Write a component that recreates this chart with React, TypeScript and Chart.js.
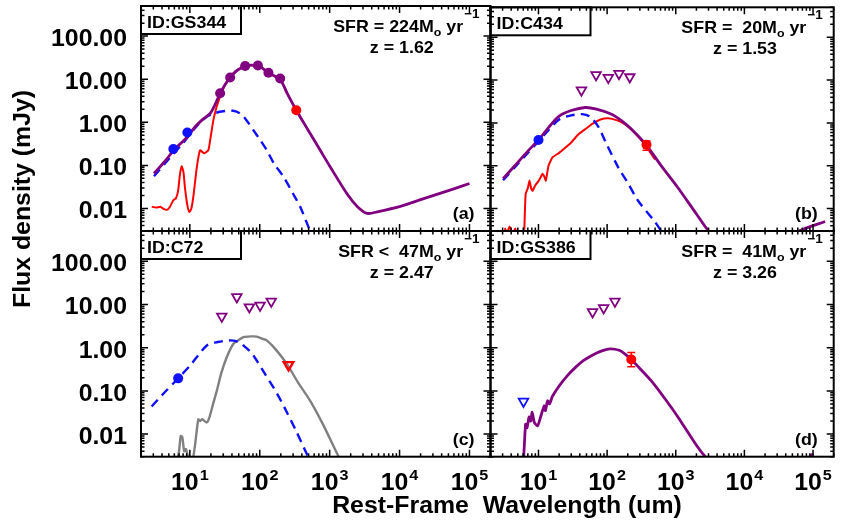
import { useEffect, useRef } from 'react';
import { Chart, registerables } from 'chart.js';

Chart.register(...registerables);

const W = 841;
const H = 525;
const FONT = '"Liberation Sans", Arial, Helvetica, sans-serif';
const SX = 1.08; // the original lettering is a touch wider than Arial

const PURPLE = '#800080';
const BLUE = '#1010ff';
const RED = '#ff0000';
const GRAY = '#808080';

// axes (shared by all four panels)
const X_MIN = 2;
const X_MAX = 2e5;
const Y_MIN = 0.003;
const Y_MAX = 500;
const xTickValues = [10, 100, 1000, 10000, 100000];
const xTickExp = ['1', '2', '3', '4', '5'];
const yTickValues = [100, 10, 1, 0.1, 0.01];
const yTickLabels = ['100.00', '10.00', '1.00', '0.10', '0.01'];

// (a) GS344
const aPurpleX = [3.07, 4.5, 5.8, 7.5, 9.2, 12, 15.6, 19.5, 23, 27.1, 32, 37.7, 45, 55, 70, 85, 100, 133, 196, 250, 333, 500, 733, 1000, 1770, 2500, 3430, 5000, 10000, 20000, 50000, 100000];
const aPurpleY = [0.065, 0.13, 0.22, 0.33, 0.46, 0.8, 1.2, 1.6, 2.6, 4.7, 7.5, 11, 15, 18.5, 21, 21, 20, 14, 9.8, 4.5, 1.9, 0.63, 0.225, 0.097, 0.022, 0.011, 0.0077, 0.0085, 0.011, 0.016, 0.026, 0.038];
const aBlueX = [3.07, 5, 8, 12, 17, 22, 30, 41.5, 52.6, 65, 81, 100, 126, 160, 219, 300, 380, 527, 650];
const aBlueY = [0.056, 0.14, 0.33, 0.75, 1.3, 1.6, 1.8, 1.85, 1.6, 1.1, 0.66, 0.4, 0.225, 0.11, 0.054, 0.022, 0.0108, 0.003, 0.0015];
const aRedX = [2.85, 3.3, 3.8, 4.2, 4.7, 5.2, 5.8, 6.3, 6.8, 7.2, 7.65, 8.1, 8.5, 9.2, 9.85, 10.5, 11.2, 12.6, 14, 16, 18.4, 20, 21.7, 24, 27, 32, 37.7, 45, 55, 70, 85, 100, 133, 196, 250, 333, 500];
const aRedY = [0.011, 0.0105, 0.011, 0.0098, 0.0093, 0.011, 0.0155, 0.017, 0.026, 0.06, 0.095, 0.07, 0.031, 0.012, 0.0083, 0.01, 0.0185, 0.092, 0.225, 0.19, 0.225, 0.5, 1.12, 2.2, 3.9, 7.5, 11, 15, 18.5, 21, 21, 20, 14, 9.8, 4.5, 1.9, 0.63];
const aPurpleDotX = [27.1, 37.7, 61.8, 94, 133, 196];
const aPurpleDotY = [4.7, 11.0, 20.2, 20.9, 14.1, 10.4];
const aBlueDotX = [5.8, 9.2];
const aBlueDotY = [0.24, 0.58];
const aRedDotX = [333];
const aRedDotY = [1.9];

// (b) C434
const bPurpleX = [3.05, 5, 7, 10, 14, 20, 30, 48, 70, 116, 160, 225, 375, 600, 1057, 2000, 3010, 5000, 10000, 25000, 62400, 150000];
const bPurpleY = [0.05, 0.12, 0.22, 0.4, 0.78, 1.45, 1.95, 2.29, 2.1, 1.6, 1.15, 0.72, 0.3, 0.105, 0.032, 0.0075, 0.003, 0.0013, 0.0009, 0.0012, 0.003, 0.005];
const bBlueX = [3.05, 5, 7, 10, 14, 20, 30, 43, 57, 75, 93, 145, 200, 281, 498, 700];
const bBlueY = [0.046, 0.11, 0.2, 0.37, 0.68, 1.2, 1.5, 1.6, 1.38, 0.8, 0.385, 0.092, 0.04, 0.0155, 0.0049, 0.0022];
const bRedX = [3.2, 3.5, 3.8, 4.2, 4.6, 5.0, 5.9, 6.2, 6.5, 7.0, 7.4, 7.8, 8.2, 9.0, 9.7, 10.5, 11.5, 12.2, 12.8, 14, 16, 20, 25, 30, 38.6, 50, 60, 80, 104, 140, 181, 250, 351, 500];
const bRedY = [0.0035, 0.0028, 0.0038, 0.0026, 0.0034, 0.002, 0.0015, 0.003, 0.022, 0.03, 0.045, 0.03, 0.026, 0.035, 0.041, 0.05, 0.065, 0.055, 0.045, 0.1, 0.157, 0.2, 0.27, 0.35, 0.55, 0.75, 0.94, 1.2, 1.29, 1.15, 0.94, 0.6, 0.32, 0.14];
const bPurpleTriX = [42.3, 69, 104, 149, 214];
const bPurpleTriY = [5.8, 13.2, 11.4, 14.1, 11.8];
const bBlueDotX = [10];
const bBlueDotY = [0.4];
const bRedDotX = [375];
const bRedDotY = [0.31];
const bRedErrLo = [0.23];
const bRedErrHi = [0.38];

// (c) C72
const cBlueX = [2.84, 4, 6.8, 10, 17.5, 25, 37.7, 50, 58.5, 75, 90.8, 120, 157, 200, 244, 330, 448, 520];
const cBlueY = [0.0436, 0.08, 0.195, 0.38, 1.12, 1.35, 1.47, 1.35, 1.12, 0.78, 0.5, 0.24, 0.12, 0.06, 0.032, 0.012, 0.0041, 0.0025];
const cGrayX = [6.6, 7.0, 7.4, 7.8, 8.3, 8.8, 9.5, 10.3, 11.2, 11.9, 13.2, 14, 15, 17.5, 19, 21.5, 24.3, 28, 33.7, 42, 50, 58.5, 75, 90.8, 110, 126, 170, 244, 350, 527, 800, 1343, 1600];
const cGrayY = [0.0025, 0.004, 0.009, 0.0085, 0.004, 0.0045, 0.0028, 0.002, 0.003, 0.0058, 0.022, 0.02, 0.022, 0.0186, 0.024, 0.05, 0.1, 0.25, 0.6, 1.23, 1.5, 1.75, 1.82, 1.8, 1.6, 1.47, 0.9, 0.42, 0.16, 0.059, 0.017, 0.003, 0.0018];
const cBlueDotX = [6.8];
const cBlueDotY = [0.195];
const cPurpleTriX = [28.6, 47, 71, 101, 146];
const cPurpleTriY = [5.3, 14.9, 8.7, 9.5, 11.8];
const cRedTriX = [258];
const cRedTriY = [0.4];

// (d) GS386
const dPurpleX = [6.05, 6.3, 6.5, 6.8, 7.3, 7.7, 8.1, 8.7, 9.7, 10.5, 12.1, 12.6, 13.6, 14.5, 16, 20, 26, 34.6, 45, 60, 80, 110, 150, 181, 225, 300, 438, 700, 1057, 2000, 2690, 5000, 15000, 60000, 100000];
const dPurpleY = [0.0025, 0.008, 0.017, 0.014, 0.025, 0.02, 0.032, 0.0186, 0.0155, 0.022, 0.045, 0.035, 0.059, 0.05, 0.075, 0.13, 0.22, 0.35, 0.5, 0.66, 0.82, 0.94, 0.87, 0.72, 0.53, 0.33, 0.172, 0.065, 0.026, 0.0055, 0.003, 0.0011, 0.0007, 0.0018, 0.0035];
const dPurpleTriX = [61.4, 89, 130];
const dPurpleTriY = [6.7, 8.3, 11.8];
const dBlueTriX = [6.05];
const dBlueTriY = [0.057];
const dRedDotX = [225];
const dRedDotY = [0.53];
const dRedErrLo = [0.36];
const dRedErrHi = [0.77];

const pts = (xs: number[], ys: number[]) => xs.map((x, i) => ({ x, y: ys[i] }));

const line = (xs: number[], ys: number[], color: string, width: number, extra: any = {}) => ({
  data: pts(xs, ys),
  showLine: true,
  borderColor: color,
  borderWidth: width,
  pointRadius: 0,
  pointHoverRadius: 0,
  tension: 0.3,
  fill: false,
  ...extra,
});

const dots = (xs: number[], ys: number[], color: string, r = 5) => ({
  data: pts(xs, ys),
  showLine: false,
  pointStyle: 'circle',
  pointRadius: r,
  pointHoverRadius: r,
  pointBackgroundColor: color,
  pointBorderColor: color,
  pointBorderWidth: 0,
});

const tris = (xs: number[], ys: number[], color: string, bw = 1.8) => ({
  data: pts(xs, ys),
  showLine: false,
  pointStyle: 'triangle',
  pointRotation: 180,
  pointRadius: 5.5,
  pointHoverRadius: 5.5,
  pointBackgroundColor: 'rgba(255,255,255,0)',
  pointBorderColor: color,
  pointBorderWidth: bw,
});

type Panel = {
  box: [number, number, number, number]; // left, top, right, bottom in page pixels
  id: string;
  sfr: string;
  z: string;
  tag: string;
  showX: boolean;
  showY: boolean;
  titles?: boolean;
  err?: { xs: number[]; lo: number[]; hi: number[] };
  datasets: any[]; // bottom-most first
};

const dash = { borderDash: [9, 6] };

const panels: Panel[] = [
  {
    box: [141, 6, 490.5, 231],
    id: 'ID:GS344', sfr: 'SFR = 224', z: 'z = 1.62', tag: '(a)',
    showX: false, showY: true,
    datasets: [
      line(aRedX, aRedY, RED, 2, { tension: 0.15 }),
      line(aBlueX, aBlueY, BLUE, 2.4, dash),
      line(aPurpleX, aPurpleY, PURPLE, 2.8),
      dots(aBlueDotX, aBlueDotY, BLUE),
      dots(aPurpleDotX, aPurpleDotY, PURPLE),
      dots(aRedDotX, aRedDotY, RED),
    ],
  },
  {
    box: [490.5, 6, 838.5, 231],
    id: 'ID:C434', sfr: 'SFR =  20', z: 'z = 1.53', tag: '(b)',
    showX: false, showY: false,
    err: { xs: bRedDotX, lo: bRedErrLo, hi: bRedErrHi },
    datasets: [
      line(bRedX, bRedY, RED, 2, { tension: 0.15 }),
      line(bBlueX, bBlueY, BLUE, 2.4, dash),
      line(bPurpleX, bPurpleY, PURPLE, 2.8),
      dots(bBlueDotX, bBlueDotY, BLUE),
      dots(bRedDotX, bRedDotY, RED),
      tris(bPurpleTriX, bPurpleTriY, PURPLE),
    ],
  },
  {
    box: [141, 231, 490.5, 456.7],
    id: 'ID:C72', sfr: 'SFR <  47', z: 'z = 2.47', tag: '(c)',
    showX: true, showY: true, titles: true,
    datasets: [
      line(cGrayX, cGrayY, GRAY, 2.4, { tension: 0.2 }),
      line(cBlueX, cBlueY, BLUE, 2.4, dash),
      dots(cBlueDotX, cBlueDotY, BLUE),
      tris(cPurpleTriX, cPurpleTriY, PURPLE),
      tris(cRedTriX, cRedTriY, RED, 2.4),
    ],
  },
  {
    box: [490.5, 231, 838.5, 456.7],
    id: 'ID:GS386', sfr: 'SFR =  41', z: 'z = 3.26', tag: '(d)',
    showX: true, showY: false,
    err: { xs: dRedDotX, lo: dRedErrLo, hi: dRedErrHi },
    datasets: [
      line(dPurpleX, dPurpleY, PURPLE, 2.8, { tension: 0.2 }),
      dots(dRedDotX, dRedDotY, RED),
      tris(dBlueTriX, dBlueTriY, BLUE),
      tris(dPurpleTriX, dPurpleTriY, PURPLE),
    ],
  },
];

function textW(ctx: CanvasRenderingContext2D, s: string, size: number) {
  ctx.font = `bold ${size}px ${FONT}`;
  return ctx.measureText(s).width * SX;
}

function drawText(ctx: CanvasRenderingContext2D, s: string, x: number, y: number, size: number, align = 'left') {
  const w = textW(ctx, s, size);
  const x0 = align === 'left' ? x : align === 'right' ? x - w : x - w / 2;
  ctx.save();
  ctx.textAlign = 'left';
  ctx.textBaseline = 'alphabetic';
  ctx.fillStyle = '#000';
  ctx.translate(x0, y);
  ctx.scale(SX, 1);
  ctx.fillText(s, 0, 0);
  ctx.restore();
  return w;
}

function makeFrame(p: Panel) {
  return {
    id: 'sedFrame',
    afterDatasetsDraw(chart: any) {
      if (!p.err) return;
      const { ctx, scales: { x, y } } = chart;
      ctx.save();
      ctx.strokeStyle = RED;
      ctx.lineWidth = 1.5;
      p.err.xs.forEach((v, i) => {
        const px = x.getPixelForValue(v);
        const lo = y.getPixelForValue(p.err!.lo[i]);
        const hi = y.getPixelForValue(p.err!.hi[i]);
        ctx.beginPath();
        ctx.moveTo(px, lo); ctx.lineTo(px, hi);
        ctx.moveTo(px - 4, lo); ctx.lineTo(px + 4, lo);
        ctx.moveTo(px - 4, hi); ctx.lineTo(px + 4, hi);
        ctx.stroke();
      });
      ctx.restore();
    },
    afterDraw(chart: any) {
      const { ctx, chartArea: { left, top, right, bottom }, scales: { x, y } } = chart;
      ctx.save();
      ctx.strokeStyle = '#000';
      ctx.lineWidth = 1.5;
      ctx.beginPath();
      for (let e = 0; e <= 5; e++) {
        for (let m = 1; m <= 9; m++) {
          const v = m * 10 ** e;
          if (v < X_MIN || v > X_MAX) continue;
          const px = x.getPixelForValue(v);
          const len = m === 1 ? 7 : 3.5;
          ctx.moveTo(px, bottom); ctx.lineTo(px, bottom - len);
          ctx.moveTo(px, top); ctx.lineTo(px, top + len);
        }
      }
      for (let e = -3; e <= 2; e++) {
        for (let m = 1; m <= 9; m++) {
          const v = m * 10 ** e;
          if (v < Y_MIN * 0.999 || v > Y_MAX) continue;
          const py = y.getPixelForValue(v);
          const len = m === 1 ? 7 : 3.5;
          ctx.moveTo(left, py); ctx.lineTo(left + len, py);
          ctx.moveTo(right, py); ctx.lineTo(right - len, py);
        }
      }
      ctx.stroke();
      ctx.lineWidth = 2;
      ctx.strokeRect(left, top, right - left, bottom - top);

      // id box
      ctx.strokeRect(left, top, 100, 28);
      drawText(ctx, p.id, left + 6, top + 22, 16.5);

      // SFR = ...Mo yr-1, right aligned
      const parts = [
        { s: p.sfr + 'M', size: 16.5, dy: 0 },
        { s: 'o', size: 11.5, dy: 4 },
        { s: ' yr', size: 16.5, dy: 0 },
        { s: '\u22121', size: 12.5, dy: -14 },
      ];
      const widths = parts.map((q) => textW(ctx, q.s, q.size));
      const total = widths.reduce((a, b) => a + b, 0) + 1;
      let cx = right - 11 - total;
      const mEnd = cx + widths[0];
      parts.forEach((q, i) => {
        drawText(ctx, q.s, cx, top + 26 + q.dy, q.size);
        cx += widths[i] + (i === 2 ? 1 : 0);
      });
      drawText(ctx, p.z, mEnd, top + 47, 16.5, 'right');
      drawText(ctx, p.tag, right - 16, bottom - 12, 16.5, 'right');

      if (p.showY) {
        yTickValues.forEach((v, i) => {
          drawText(ctx, yTickLabels[i], left - 14, y.getPixelForValue(v) + 10, 23, 'right');
        });
      }
      if (p.showX) {
        xTickValues.forEach((v, i) => {
          const px = x.getPixelForValue(v);
          const w1 = textW(ctx, '10', 23);
          const w2 = textW(ctx, xTickExp[i], 15);
          const x0 = px - (w1 + w2 + 1) / 2;
          drawText(ctx, '10', x0, bottom + 33.5, 23);
          drawText(ctx, xTickExp[i], x0 + w1 + 1, bottom + 23.5, 15);
        });
      }
      if (p.titles) {
        drawText(ctx, 'Rest-Frame  Wavelength (um)', 507, 513, 23, 'center');
        ctx.save();
        ctx.translate(30, 199);
        ctx.rotate(-Math.PI / 2);
        drawText(ctx, 'Flux density (mJy)', 0, 0, 23, 'center');
        ctx.restore();
      }
      ctx.restore();
    },
  };
}

function SedPanel({ p }: { p: Panel }) {
  const ref = useRef<HTMLCanvasElement>(null);

  useEffect(() => {
    if (!ref.current) return;
    const n = p.datasets.length;
    const [l, t, r, b] = p.box;
    const chart = new Chart(ref.current, {
      type: 'scatter',
      data: { datasets: p.datasets.map((d, i) => ({ ...d, order: n - i })) },
      options: {
        responsive: false,
        animation: false,
        events: [],
        layout: { padding: { left: l, top: t, right: W - r, bottom: H - b } },
        plugins: { legend: { display: false }, tooltip: { enabled: false } },
        scales: {
          x: { type: 'logarithmic', min: X_MIN, max: X_MAX, display: false },
          y: { type: 'logarithmic', min: Y_MIN, max: Y_MAX, display: false },
        },
      },
      plugins: [makeFrame(p)],
    } as any);
    return () => chart.destroy();
  }, [p]);

  return (
    <canvas
      ref={ref}
      width={W}
      height={H}
      style={{ position: 'absolute', left: 0, top: 0, width: W, height: H }}
    />
  );
}

export default function App() {
  return (
    <div style={{ position: 'absolute', left: 0, top: 0, width: W, height: H, background: '#fff' }}>
      {panels.map((p) => (
        <SedPanel key={p.id} p={p} />
      ))}
    </div>
  );
}
